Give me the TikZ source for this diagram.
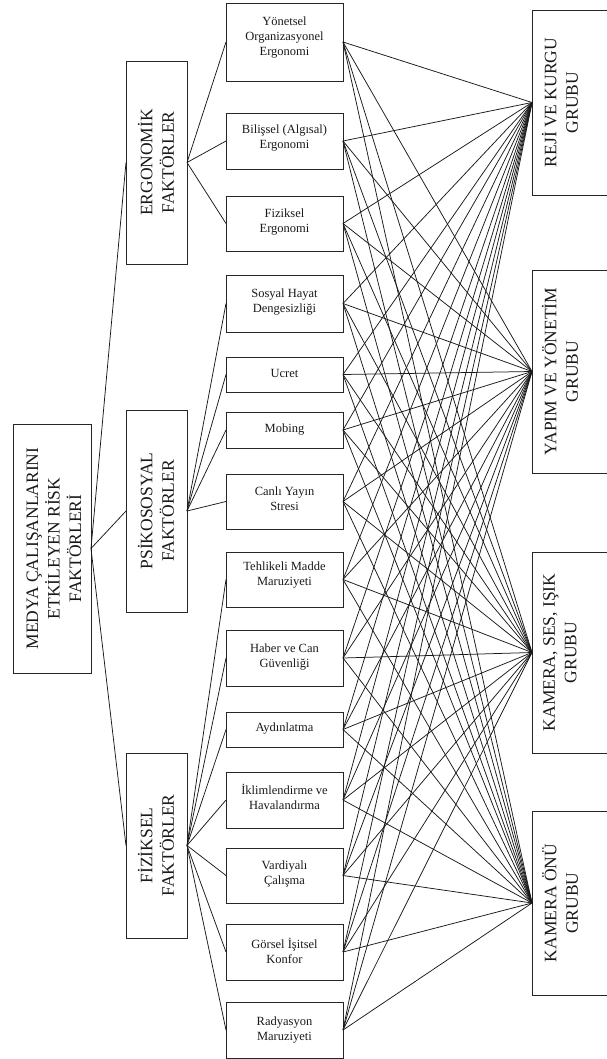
\documentclass[tikz,border=0pt]{standalone}
\usepackage{fontspec}
\setmainfont{Liberation Serif}
\newcommand\midbox[5]{%
  \node[box, minimum width=117pt, minimum height={(#3-#2)*1pt}] (#1) at (226,#2) {};
  \node[small, yshift=#5pt] at (#1.center) {#4};}
\newcommand\bigbox[7]{%
  \node[box, minimum width={(#4-#2)*1pt}, minimum height={(#5-#3)*1pt}] (#1) at (#2,#3) {};
  \node[big] at (#6,{(#3+#5)/2}) {#7};}
\begin{document}
\begin{tikzpicture}[x=1pt,y=-1pt,
  box/.style={draw=black!85, line width=0.9pt, anchor=north west, inner sep=0pt, outer sep=0pt},
  big/.style={rotate=90, align=center, inner sep=0pt, font=\fontsize{17.5}{21.5}\selectfont, text=black!90},
  small/.style={align=center, inner sep=0pt, font=\fontsize{12.5}{15}\selectfont, text=black!90},
  conn/.style={draw=black!90, line width=0.75pt}]
\useasboundingbox (0,0) rectangle (606,1059);
% root
\bigbox{root}{13}{424}{91}{673}{54}{MEDYA ÇALIŞANLARINI\\ETKİLEYEN RİSK\\FAKTÖRLERİ}
% categories
\bigbox{c1}{126}{61}{187}{264}{156}{ERGONOMİK\\FAKTÖRLER}
\bigbox{c2}{126}{410}{187}{612}{156}{PSİKOSOSYAL\\FAKTÖRLER}
\bigbox{c3}{126}{753}{187}{938}{156}{FİZİKSEL\\FAKTÖRLER}
% right groups
\bigbox{r1}{532}{10}{612}{195}{560}{REJİ VE KURGU\\GRUBU}
\bigbox{r2}{532}{270}{612}{473}{560}{YAPIM VE YÖNETİM\\GRUBU}
\bigbox{r3}{532}{552}{612}{753}{560}{KAMERA, SES, IŞIK\\GRUBU}
\bigbox{r4}{532}{811}{612}{995}{560}{KAMERA ÖNÜ\\GRUBU}
% middle boxes
\midbox{m1}{3}{81}{Yönetsel\\Organizasyonel\\Ergonomi}{4}
\midbox{m2}{113}{169}{Bilişsel (Algısal)\\Ergonomi}{3}
\midbox{m3}{196}{251}{Fiziksel\\Ergonomi}{1}
\midbox{m4}{275}{332}{Sosyal Hayat\\Dengesizliği}{1}
\midbox{m5}{357}{392}{Ucret}{1}
\midbox{m6}{412}{448}{Mobing}{0}
\midbox{m7}{474}{529}{Canlı Yayın\\Stresi}{3}
\midbox{m8}{552}{607}{Tehlikeli Madde\\Maruziyeti}{4}
\midbox{m9}{630}{686}{Haber ve Can\\Güvenliği}{1}
\midbox{m10}{712}{747}{Aydınlatma}{1}
\midbox{m11}{772}{828}{İklimlendirme ve\\Havalandırma}{3}
\midbox{m12}{848}{903}{Vardiyalı\\Çalışma}{2}
\midbox{m13}{924}{980}{Görsel İşitsel\\Konfor}{1}
\midbox{m14}{1002}{1058}{Radyasyon\\Maruziyeti}{0}
% connectors
\foreach \c in {c1,c2,c3} \draw[conn] (root.east) -- (\c.west);
\foreach \i in {1,2,3} \draw[conn] (c1.east) -- (m\i.west);
\foreach \i in {4,...,7} \draw[conn] (c2.east) -- (m\i.west);
\foreach \i in {8,...,14} \draw[conn] (c3.east) -- (m\i.west);
\foreach \i in {1,...,14} \foreach \j in {1,...,4} \draw[conn] (m\i.east) -- (r\j.west);
\end{tikzpicture}
\end{document}
